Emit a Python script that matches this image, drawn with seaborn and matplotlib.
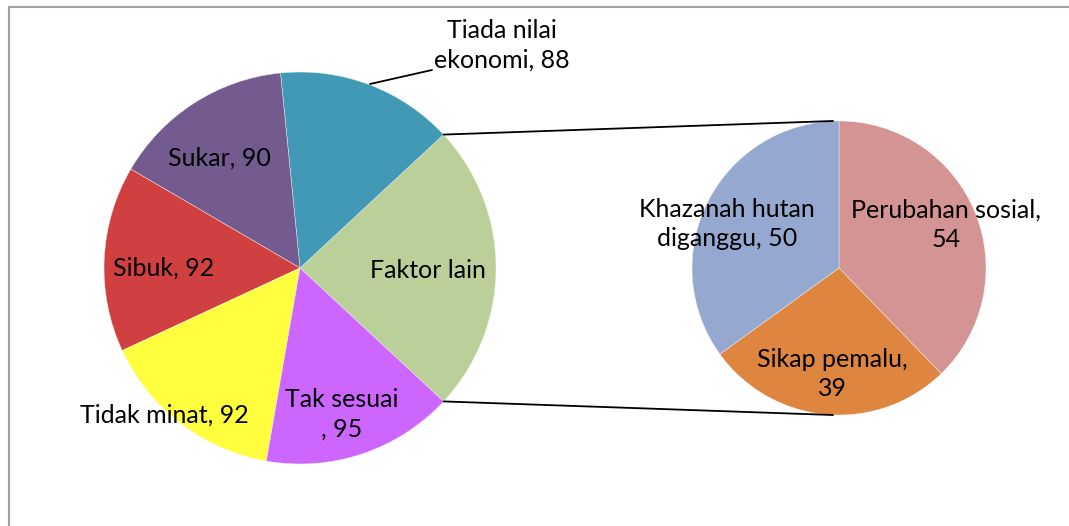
import matplotlib.pyplot as plt
import numpy as np
import seaborn as sns

# main pie (counter-clockwise from the "Faktor lain" wedge)
main_labels = ["Faktor lain", "Tiada nilai\nekonomi, 88", "Sukar, 90", "Sibuk, 92",
               "Tidak minat, 92", "Tak sesuai\n, 95"]
main_values = [143, 88, 90, 92, 92, 95]
main_colors = ["#BBCF98", "#4299B5", "#735A8F", "#D04040", "#FFFF40", "#CC66FF"]

# secondary pie breaking down "Faktor lain" (clockwise from the top)
sub_labels = ["Perubahan sosial,\n54", "Sikap pemalu,\n39", "Khazanah hutan\ndiganggu, 50"]
sub_values = [54, 39, 50]
sub_colors = ["#D49494", "#DE8540", "#95A9D0"]


def main():
    sns.set_theme(style="white")
    plt.rcParams["font.family"] = ["Lato", "DejaVu Sans"]

    W, H = 1069, 526
    fig = plt.figure(figsize=(W / 100, H / 100), dpi=100)
    ax = fig.add_axes([0, 0, 1, 1])

    c1, r1 = (300, H - 268), 196
    c2, r2 = (839, H - 268), 147

    share = main_values[0] / sum(main_values)
    start = -share * 180
    wp = dict(linewidth=0.3, edgecolor="#F4F4F4")
    ax.pie(main_values, colors=main_colors, startangle=start, counterclock=True,
           center=c1, radius=r1, wedgeprops=wp, frame=True)
    ax.pie(sub_values, colors=sub_colors, startangle=90, counterclock=False,
           center=c2, radius=r2, wedgeprops=wp, frame=True)
    ax.set_xlim(0, W)
    ax.set_ylim(0, H)
    ax.set_aspect("equal")
    ax.axis("off")

    # connector lines between the two pies
    a = np.deg2rad(share * 180)
    for sgn in (1, -1):
        x0 = c1[0] + r1 * np.cos(a)
        y0 = c1[1] + sgn * r1 * np.sin(a)
        ax.plot([x0, c2[0] - 6], [y0, c2[1] + sgn * r2], color="black", lw=1.3)

    fs = 18
    pos_main = [(428, 270), (502, 45), (219, 158), (164, 268), (164, 415), (342, 414)]
    for lab, (x, y) in zip(main_labels, pos_main):
        ax.text(x, H - y, lab, ha="center", va="center", fontsize=fs,
                linespacing=1.35, color="black")
    # leader line for "Tiada nilai ekonomi"
    ax.plot([370, 432], [H - 84, H - 70], color="black", lw=1.3)

    pos_sub = [(946, 225), (832, 374), (727, 224)]
    for lab, (x, y) in zip(sub_labels, pos_sub):
        ax.text(x, H - y, lab, ha="center", va="center", fontsize=fs,
                linespacing=1.35, color="black")

    # chart area border
    ax.plot([8.5, W], [H - 6.5, H - 6.5], color="#A0A0A0", lw=1.5)
    ax.plot([8.5, 8.5], [0, H - 6.5], color="#A0A0A0", lw=1.5)

    fig.savefig("out.png", dpi=100)
    plt.close(fig)


if __name__ == "__main__":
    main()
